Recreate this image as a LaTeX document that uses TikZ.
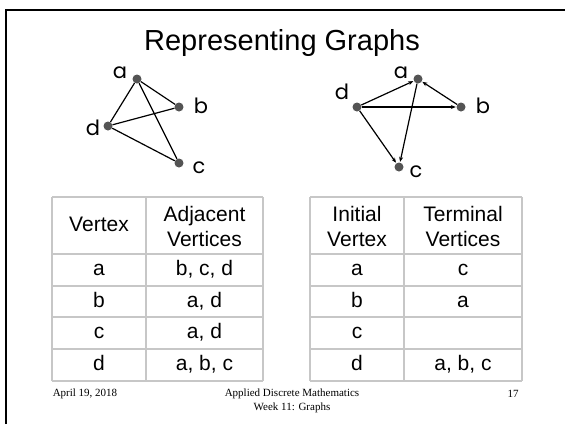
\documentclass[tikz,border=0pt]{standalone}
\usepackage{fontspec}
\setmainfont{Liberation Sans}
\newfontfamily\lblfont{Poppins}
\newfontfamily\footfont{Liberation Serif}
\usetikzlibrary{arrows.meta}
\tikzset{
  vtx/.style={circle,fill=black!67,draw=none,minimum size=9pt,inner sep=0pt},
  vlbl/.style={font=\lblfont\fontsize{21}{24}\selectfont,inner sep=0pt},
  edge/.style={line width=1.2pt,black},
  arc/.style={edge,-{Stealth[length=5pt,width=4pt]},shorten >=0.5pt},
  grid/.style={draw=black!22,line width=1.6pt},
  cell/.style={font=\fontsize{21}{25}\selectfont,align=center,inner sep=0pt},
  one/.style={cell,text height=15pt,text depth=4pt},
  foot/.style={font=\footfont\fontsize{11}{12}\selectfont,inner sep=0pt,align=center}
}
\begin{document}
\begin{tikzpicture}[x=1pt,y=-1pt]
\useasboundingbox (0,0) rectangle (565,424);
\fill[white] (0,0) rectangle (565,424);
\draw[line width=2pt] (6,424) -- (6,10) -- (565,10);
\node[font=\fontsize{29}{32}\selectfont,inner sep=0pt] (title) at (282,43) {Representing Graphs};
% left graph
\node[vtx] (a1) at (137,79) {};
\node[vtx] (b1) at (179,107) {};
\node[vtx] (d1) at (108,126) {};
\node[vtx] (c1) at (179,163) {};
\node[vlbl] (la1) at (120,73) {a};
\node[vlbl] (lb1) at (201,106) {b};
\node[vlbl] (ld1) at (93,128) {d};
\node[vlbl] (lc1) at (199,168) {c};
\draw[edge] (a1) -- (b1);
\draw[edge] (a1) -- (d1);
\draw[edge] (a1) -- (c1);
\draw[edge] (d1) -- (b1);
\draw[edge] (d1) -- (c1);
% right graph
\node[vtx] (a2) at (418,79) {};
\node[vtx] (b2) at (461,107) {};
\node[vtx] (d2) at (357,107) {};
\node[vtx] (c2) at (399,167) {};
\node[vlbl] (la2) at (401,73) {a};
\node[vlbl] (lb2) at (483,106) {b};
\node[vlbl] (ld2) at (342,92) {d};
\node[vlbl] (lc2) at (416,172) {c};
\draw[arc] (d2) -- (a2);
\draw[arc] (d2) -- (b2);
\draw[arc] (d2) -- (c2);
\draw[arc] (b2) -- (a2);
\draw[arc] (a2) -- (c2);
% left table
\foreach \yy in {197,254,286,317,349,381} \draw[grid] (52,\yy) -- (263,\yy);
\foreach \xx in {52,146,263} \draw[grid] (\xx,197) -- (\xx,381);
\node[one] (h11) at (99,226) {Vertex};
\node[cell] (h12) at (204.5,226) {Adjacent\\Vertices};
\node[one] (r11) at (99,270) {a};
\node[one] (r12) at (204.5,270) {b, c, d};
\node[one] (r21) at (99,301.5) {b};
\node[one] (r22) at (204.5,301.5) {a, d};
\node[one] (r31) at (99,333) {c};
\node[one] (r32) at (204.5,333) {a, d};
\node[one] (r41) at (99,365) {d};
\node[one] (r42) at (204.5,365) {a, b, c};
% right table
\foreach \yy in {197,254,286,317,349,381} \draw[grid] (310,\yy) -- (522,\yy);
\foreach \xx in {310,404,522} \draw[grid] (\xx,197) -- (\xx,381);
\node[cell] (h21) at (357,226) {Initial\\Vertex};
\node[cell] (h22) at (463,226) {Terminal\\Vertices};
\node[one] (s11) at (357,270) {a};
\node[one] (s12) at (463,270) {c};
\node[one] (s21) at (357,301.5) {b};
\node[one] (s22) at (463,301.5) {a};
\node[one] (s31) at (357,333) {c};
\node[one] (s41) at (357,365) {d};
\node[one] (s42) at (463,365) {a, b, c};
% footer
\node[foot] (date) at (85,394) {April 19, 2018};
\node[foot] (course) at (292,401) {Applied Discrete Mathematics\\[2pt]Week 11: Graphs};
\node[foot] (page) at (513,394) {17};
\end{tikzpicture}
\end{document}
